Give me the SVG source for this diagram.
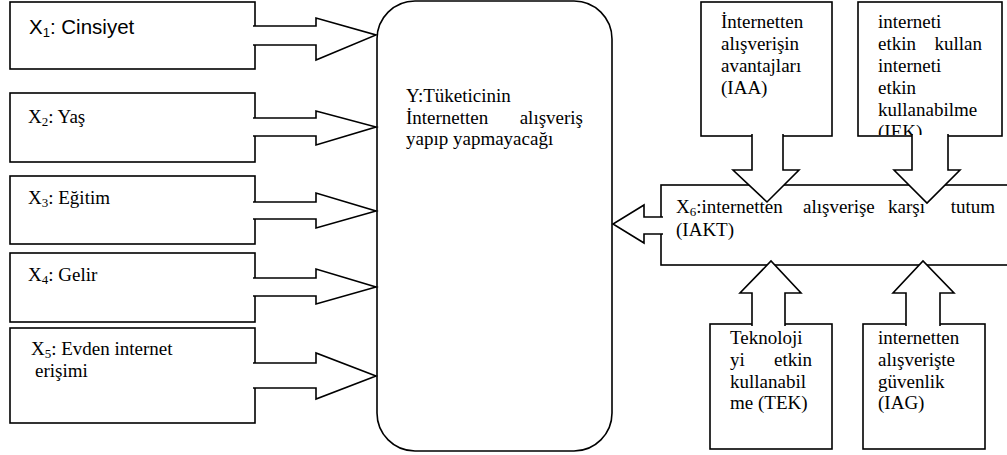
<svg xmlns="http://www.w3.org/2000/svg" width="1007" height="455" viewBox="0 0 1007 455">
<style>
.b{fill:#fff;stroke:#000;stroke-width:1.6;stroke-linejoin:miter}
.a{fill:#fff;stroke:#000;stroke-width:1.6;stroke-linejoin:miter}
.t{font-family:"Liberation Serif","Times New Roman",serif;font-size:19px;fill:#000}
.l{font-family:"Liberation Serif","Times New Roman",serif;font-size:19px;fill:#000}
.s{font-family:"Liberation Sans",Arial,sans-serif;font-size:20.5px;fill:#000}
</style>
<defs>
<clipPath id="clipIEK"><rect x="859" y="3" width="142" height="132"/></clipPath>
</defs>
<rect x="0" y="0" width="1007" height="455" fill="#fff"/>
<g id="nodes">
<g id="Y"><rect class="b" x="377" y="1" width="235" height="450" rx="38" ry="38"/></g>
<g id="X1"><rect class="b" x="10" y="2" width="245" height="67"/></g>
<g id="X2"><rect class="b" x="10" y="93" width="245" height="69"/></g>
<g id="X3"><rect class="b" x="10" y="176" width="245" height="68"/></g>
<g id="X4"><rect class="b" x="10" y="253" width="245" height="69"/></g>
<g id="X5"><rect class="b" x="10" y="328" width="245" height="95"/></g>
<g id="X6"><rect class="b" x="661" y="185" width="352" height="80"/></g>
<g id="IAA"><rect class="b" x="701" y="2" width="131" height="134"/></g>
<g id="IEK"><rect class="b" x="858" y="2" width="144" height="134"/></g>
<g id="TEK"><rect class="b" x="710" y="324" width="122" height="125"/></g>
<g id="IAG"><rect class="b" x="863" y="324" width="122" height="125"/></g>
</g>
<g id="connectors">
<path class="a" d="M253,26 H316 V18 L376,35 L316,60 V45 H253"/>
<path class="a" d="M253,118 H316 V111 L376,127 L316,145 V136 H253"/>
<path class="a" d="M253,202 H316 V193 L376,211 L316,228 V219 H253"/>
<path class="a" d="M253,278 H316 V269 L376,287 L316,304 V296 H253"/>
<path class="a" d="M253,363 H316 V353 L376,376 L316,399 V388 H253"/>
<path class="a" d="M663,217 H644 V205 L613,224 L644,243 V234 H663"/>
<path class="a" d="M752,134 V170 H733 L767,202 L799,170 H783 V134"/>
<path class="a" d="M912,134 V170 H894 L927,203 L960,170 H948 V134"/>
<path class="a" d="M752,326 V293 H740 L771,261 L801,293 H785 V326"/>
<path class="a" d="M906,326 V293 H893 L923,261 L954,293 H940 V326"/>
</g>
<g id="labels">
<text class="s" x="29" y="34">X<tspan font-size="13" dy="3">1</tspan><tspan dy="-3">: Cinsiyet</tspan></text>
<text class="l" x="28" y="123">X<tspan font-size="13" dy="3">2</tspan><tspan dy="-3">: Yaş</tspan></text>
<text class="l" x="28" y="204">X<tspan font-size="13" dy="3">3</tspan><tspan dy="-3">: Eğitim</tspan></text>
<text class="l" x="28" y="281">X<tspan font-size="13" dy="3">4</tspan><tspan dy="-3">: Gelir</tspan></text>
<text class="l" x="31" y="355">X<tspan font-size="13" dy="3">5</tspan><tspan dy="-3">: Evden internet</tspan></text>
<text class="l" x="35" y="377">erişimi</text>
<text class="t" x="406" y="102">Y:Tüketicinin</text>
<text class="t" x="406" y="123.5">İnternetten</text>
<text class="t" x="583" y="123.5" text-anchor="end">alışveriş</text>
<text class="t" x="406" y="145">yapıp yapmayacağı</text>
<text class="t" x="721" y="28">İnternetten</text>
<text class="t" x="721" y="50">alışverişin</text>
<text class="t" x="721" y="72">avantajları</text>
<text class="t" x="721" y="94">(IAA)</text>
<g clip-path="url(#clipIEK)">
<text class="t" x="878" y="28">interneti</text>
<text class="t" x="878" y="50">etkin</text>
<text class="t" x="982" y="50" text-anchor="end">kullan</text>
<text class="t" x="878" y="72">interneti</text>
<text class="t" x="878" y="94">etkin</text>
<text class="t" x="878" y="116">kullanabilme</text>
<text class="t" x="878" y="138">(IEK)</text>
</g>
<text class="t" x="676" y="213">X<tspan font-size="13" dy="3">6</tspan><tspan dy="-3">:internetten</tspan></text>
<text class="t" x="803" y="213">alışverişe</text>
<text class="t" x="888" y="213">karşı</text>
<text class="t" x="995" y="213" text-anchor="end">tutum</text>
<text class="t" x="676" y="236">(IAKT)</text>
<text class="t" x="730" y="344">Teknoloji</text>
<text class="t" x="730" y="366">yi</text>
<text class="t" x="812" y="366" text-anchor="end">etkin</text>
<text class="t" x="730" y="388">kullanabil</text>
<text class="t" x="730" y="409">me (TEK)</text>
<text class="t" x="878" y="344">internetten</text>
<text class="t" x="878" y="366">alışverişte</text>
<text class="t" x="878" y="388">güvenlik</text>
<text class="t" x="878" y="409">(IAG)</text>
</g>
</svg>
